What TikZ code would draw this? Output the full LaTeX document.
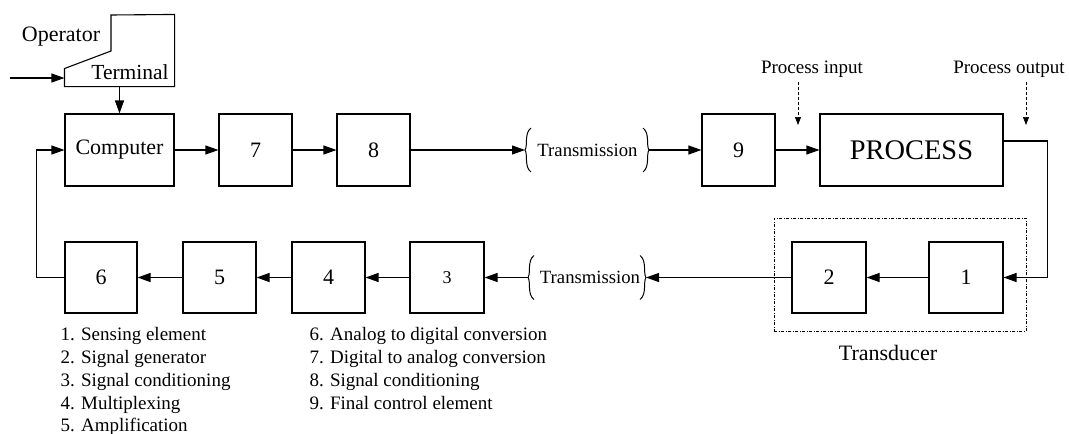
\documentclass[tikz,border=0pt]{standalone}
\usepackage{fontspec}
\setmainfont{Liberation Serif}
\usetikzlibrary{arrows.meta}
\begin{document}
\begin{tikzpicture}[x=1pt,y=-1pt,line width=1.1pt,
  blk/.style={draw, rectangle, inner sep=0pt, minimum height=72pt,
              font=\fontsize{22}{26}\selectfont},
  arr/.style={-{Triangle[length=13pt,width=9pt]}},
  dasharr/.style={densely dashed, line width=0.7pt, -{Triangle[length=8pt,width=6pt]}},
  lbl/.style={inner sep=0pt, font=\fontsize{19}{23}\selectfont},
  legend/.style={inner sep=0pt, anchor=base west, font=\fontsize{19}{23}\selectfont},
  cutl/.pic={\draw[line width=1pt] (6,-22) .. controls (-1,-17) and (3,-4) .. (0,0)
                                     .. controls (3,4) and (-1,17) .. (6,22);},
  cutr/.pic={\draw[line width=1pt] (-6,-22) .. controls (1,-17) and (-3,-4) .. (0,0)
                                     .. controls (-3,4) and (1,17) .. (-6,22);}
]
\useasboundingbox (0,0) rectangle (1069,434);

% operator terminal
\node[inner sep=0pt, minimum width=109pt, minimum height=71pt] (term) at (119.5,50.5) {};
\draw (term.north east) -- (term.south east) -- (term.south west) -- ++(0,-18)
      -- (111,51) -- (111,15) -- cycle;
\node[lbl, font=\fontsize{22}{26}\selectfont] (oper) at (61,37) {Operator};
\node[lbl, font=\fontsize{21.5}{26}\selectfont] (termtxt) at (130,72) {Terminal};
\coordinate (opin) at (10,78);

% forward path
\node[blk, minimum width=109pt] (comp) at (119.5,150) {Computer};
\node[blk, minimum width=73pt] (b7) at (255.5,150) {7};
\node[blk, minimum width=73pt] (b8) at (373.5,150) {8};
\node[blk, minimum width=73pt] (b9) at (738.5,150) {9};
\node[blk, minimum width=183pt, font=\fontsize{28.4}{32}\selectfont] (proc) at (911.5,150) {PROCESS};

% measurement path
\node[blk, minimum width=72pt, minimum height=71pt] (b6) at (101,277.5) {6};
\node[blk, minimum width=73pt, minimum height=71pt] (b5) at (219.5,277.5) {5};
\node[blk, minimum width=73pt, minimum height=71pt] (b4) at (328.5,277.5) {4};
\node[blk, minimum width=74pt, minimum height=71pt, font=\fontsize{18}{22}\selectfont] (b3) at (447,277.5) {3};
\node[blk, minimum width=74pt, minimum height=71pt] (b2) at (829,277.5) {2};
\node[blk, minimum width=74pt, minimum height=71pt] (b1) at (966,277.5) {1};

% transducer enclosure
\node[draw, dash pattern=on 3pt off 1.5pt on 1pt off 1.5pt, line width=0.8pt, inner sep=0pt,
      minimum width=252pt, minimum height=113pt] (tdbox) at (900,274.5) {};
\node[lbl, font=\fontsize{22}{26}\selectfont] (tdtxt) at (888,353) {Transducer};

% transmission links
\coordinate (tl1) at (525,150);
\coordinate (tr1) at (649,150);
\coordinate (tl2) at (528,277.5);
\coordinate (tr2) at (646,277.5);
\pic at (tl1) {cutl};
\pic at (tr1) {cutr};
\pic at (tl2) {cutl};
\pic at (tr2) {cutr};
\node[lbl, font=\fontsize{18.7}{22}\selectfont] (tx1) at (587.5,150) {Transmission};
\node[lbl, font=\fontsize{18.7}{22}\selectfont] (tx2) at (590,277.5) {Transmission};

% process disturbances
\node[lbl] (pin) at (812,69) {Process input};
\node[lbl] (pout) at (1009,69) {Process output};
\coordinate (pinA) at (798,82);
\coordinate (pinB) at (798,125);
\coordinate (poutA) at (1026,82);
\coordinate (poutB) at (1026,125);
\draw[dasharr] (pinA) -- (pinB);
\draw[dasharr] (poutA) -- (poutB);

% connectors
\draw[arr] (opin) -- (opin -| term.west);
\draw[arr] (term.south) -- (comp.north);
\draw[arr] (comp.east) -- (b7.west);
\draw[arr] (b7.east) -- (b8.west);
\draw[arr] (b8.east) -- (tl1);
\draw[arr] (tr1) -- (b9.west);
\draw[arr] (b9.east) -- (proc.west);
\draw[arr] ([yshift=9pt]proc.east) -- ++(44,0) |- (b1.east);
\draw[arr] (b1.west) -- (b2.east);
\draw[arr] (b2.west) -- (tr2);
\draw[arr] (tl2) -- (b3.east);
\draw[arr] (b3.west) -- (b4.east);
\draw[arr] (b4.west) -- (b5.east);
\draw[arr] (b5.west) -- (b6.east);
\draw[arr] (b6.west) -- ++(-28,0) |- (comp.west);

% legend
\node[legend] (leg1) at (60,340) {1. Sensing element};
\node[legend] (leg2) at (60,363) {2. Signal generator};
\node[legend] (leg3) at (60,386) {3. Signal conditioning};
\node[legend] (leg4) at (60,409) {4. Multiplexing};
\node[legend] (leg5) at (60,431) {5. Amplification};
\node[legend] (leg6) at (309,340) {6. Analog to digital conversion};
\node[legend] (leg7) at (309,363) {7. Digital to analog conversion};
\node[legend] (leg8) at (309,386) {8. Signal conditioning};
\node[legend] (leg9) at (309,409) {9. Final control element};
\end{tikzpicture}
\end{document}
